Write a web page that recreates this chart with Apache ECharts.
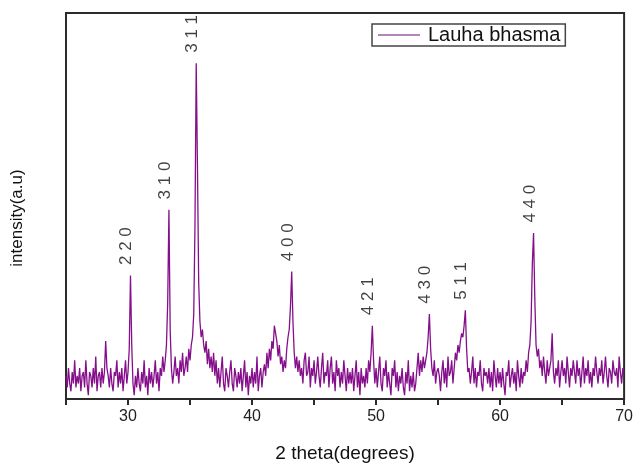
<!DOCTYPE html>
<html>
<head>
<meta charset="utf-8">
<title>Lauha bhasma XRD</title>
<script src="https://cdn.jsdelivr.net/npm/echarts@6/dist/echarts.min.js"></script>
<style>
  html, body { margin: 0; padding: 0; background: #fff; }
  #chart { width: 636px; height: 468px; }
</style>
</head>
<body>
<div id="chart"></div>
<script>
// 2theta 扫描起点和步长
var thetaStart = 25;
var thetaStep = 0.1;

// 强度 (a.u), 每行 1 度
var intensity = [
  6,3,8,4,2,7,4,10,3,6,        // 25
  4,8,2,6,7,3,10,4,1,7,        // 26
  6,3,8,4,11,2,6,7,3,8,        // 27
  4,7,15,8,6,3,8,4,2,7,        // 28
  6,10,3,7,4,8,2,6,10,4,       // 29
  7,13,32,14,4,1,6,3,8,4,      // 30
  2,7,4,10,3,6,1,8,4,7,        // 31
  3,6,10,4,7,2,8,6,11,7,       // 32
  10,14,25,49,18,8,4,7,11,6,   // 33
  8,4,10,7,12,6,8,11,7,13,     // 34
  10,14,16,22,45,87,60,30,20,16, // 35
  18,14,12,15,9,13,8,11,7,12,  // 36
  6,10,4,8,3,7,11,4,2,8,       // 37
  6,3,7,10,4,2,8,6,3,7,        // 38
  4,8,2,6,10,3,7,1,6,4,        // 39
  8,3,7,4,11,2,6,8,3,7,        // 40
  9,6,12,8,13,10,15,13,19,17,  // 41
  15,11,14,9,11,7,10,8,13,16,  // 42
  18,24,33,20,12,8,11,7,10,6,  // 43
  8,4,10,12,6,7,11,3,8,6,      // 44
  10,4,7,11,6,3,8,12,4,7,      // 45
  6,10,3,8,11,4,7,2,10,6,      // 46
  8,3,7,4,10,6,2,8,4,7,        // 47
  4,8,2,6,10,3,7,1,8,4,        // 48
  6,3,8,4,10,7,12,19,10,4,     // 49
  8,3,7,11,4,2,8,6,10,3,       // 50
  7,4,1,8,6,10,3,7,2,6,        // 51
  4,8,3,1,7,4,10,2,6,3,        // 52
  7,2,4,8,12,6,10,7,11,8,      // 53
  10,12,16,22,13,8,6,10,4,7,   // 54
  8,6,2,7,10,4,8,3,11,6,       // 55
  7,10,4,8,12,10,14,12,15,17,  // 56
  16,19,23,13,7,8,4,7,11,4,    // 57
  8,3,7,6,10,4,2,8,6,7,        // 58
  4,8,3,7,2,10,6,3,8,4,        // 59
  7,3,8,4,1,7,6,10,3,6,        // 60
  8,4,7,2,10,6,3,8,4,7,        // 61
  6,10,7,12,14,20,35,43,26,14, // 62
  11,13,8,10,6,11,7,4,10,6,    // 63
  8,10,17,7,4,8,6,10,3,7,      // 64
  10,6,8,4,11,7,3,8,6,10,      // 65
  7,4,10,6,8,3,7,11,4,8,       // 66
  6,10,4,7,3,8,6,11,7,4,       // 67
  8,6,10,4,7,11,6,3,8,7,       // 68
  4,10,7,6,8,3,11,7,4,8,       // 69
  7                            // 70
];

// 晶面指数标注
var peakPos = [30.2, 33.3, 35.5, 43.2, 49.7, 54.3, 57.2, 62.7];
var peakHkl = ['2 2 0', '3 1 0', '3 1 1', '4 0 0', '4 2 1', '4 3 0', '5 1 1', '4 4 0'];

// x 轴刻度
var xTicks = [30, 40, 50, 60, 70];

var lineData = [];
for (var i = 0; i < intensity.length; i++) {
  lineData.push([+(thetaStart + i * thetaStep).toFixed(1), intensity[i]]);
}

var labelData = [];
for (var j = 0; j < peakPos.length; j++) {
  var idx = Math.round((peakPos[j] - thetaStart) / thetaStep);
  labelData.push({ value: [peakPos[j] - 0.3, intensity[idx] + 7.6], name: peakHkl[j] });
}

var font = 'Liberation Sans, Arial, sans-serif';
var chart = echarts.init(document.getElementById('chart'), null, { renderer: 'canvas' });

chart.setOption({
  backgroundColor: '#fff',
  animation: false,
  grid: {
    left: 66, right: 11, top: 13, bottom: 64,
    show: true, borderColor: '#2b2b2b', borderWidth: 2
  },
  legend: {
    left: 372, top: 24,
    data: [{ name: 'Lauha bhasma', icon: 'rect', itemStyle: { color: '#b584b8' } }],
    itemWidth: 42, itemHeight: 2,
    borderColor: '#444', borderWidth: 1.5, borderRadius: 0,
    padding: [1, 5, 1, 6],
    textStyle: { fontFamily: font, fontSize: 20, color: '#111', padding: [0, 0, 0, 3] }
  },
  xAxis: {
    type: 'value',
    min: 25, max: 70, interval: 5,
    name: '2 theta(degrees)',
    nameLocation: 'middle', nameGap: 45,
    nameTextStyle: { fontFamily: font, fontSize: 19, color: '#111' },
    axisLine: { lineStyle: { color: '#2b2b2b', width: 2 } },
    axisTick: { show: true, length: 6, lineStyle: { color: '#2b2b2b', width: 2 } },
    axisLabel: {
      fontFamily: font, fontSize: 16, color: '#222', margin: 10,
      formatter: function (v) { return xTicks.indexOf(v) >= 0 ? String(v) : ''; }
    },
    splitLine: { show: false }
  },
  yAxis: {
    type: 'value',
    min: 0, max: 100,
    name: 'intensity(a.u)',
    nameLocation: 'middle', nameGap: 40,
    nameTextStyle: { fontFamily: font, fontSize: 17, color: '#111', padding: [0, 24, 0, 0] },
    axisLine: { show: true, lineStyle: { color: '#2b2b2b', width: 2 } },
    axisTick: { show: false },
    axisLabel: { show: false },
    splitLine: { show: false }
  },
  series: [
    {
      name: 'Lauha bhasma',
      type: 'line',
      data: lineData,
      symbol: 'none',
      lineStyle: { color: '#850f8a', width: 1.3 },
      itemStyle: { color: '#850f8a' }
    },
    {
      type: 'scatter',
      data: labelData,
      symbolSize: 0,
      silent: true,
      label: {
        show: true, position: 'inside', rotate: 90,
        formatter: '{b}',
        fontFamily: font, fontSize: 17, color: '#111'
      }
    }
  ]
});
</script>
</body>
</html>
